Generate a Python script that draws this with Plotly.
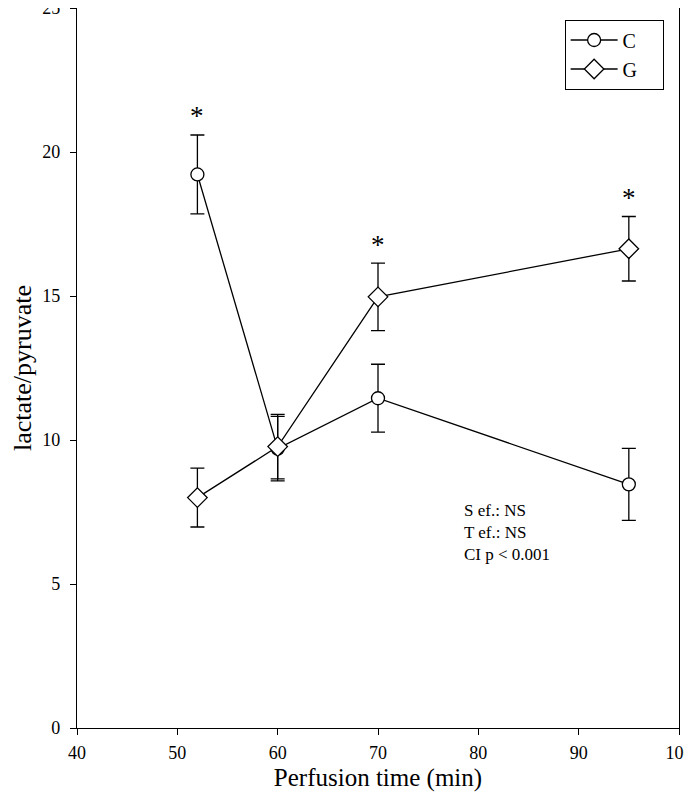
import plotly.graph_objects as go

time_c = [52, 60, 70, 95]
ratio_c = [19.22, 9.70, 11.45, 8.46]
err_c = [1.37, 1.12, 1.18, 1.25]

time_g = [52, 60, 70, 95]
ratio_g = [8.00, 9.77, 14.97, 16.64]
err_g = [1.02, 1.12, 1.17, 1.12]

star_x = [52, 70, 95]
star_y = [21.4, 16.9, 18.55]

stats_text = ["S ef.: NS", "T ef.: NS", "CI p < 0.001"]

FONT = "Liberation Serif"
PAD = "\u00a0" * 4

fig = go.Figure()
fig.add_trace(go.Scatter(
    x=time_c, y=ratio_c, name="C" + PAD, mode="lines+markers",
    line=dict(color="black", width=1.3),
    marker=dict(symbol="circle", size=13, color="white", line=dict(color="black", width=1.3)),
    error_y=dict(type="data", array=err_c, visible=True, color="black", thickness=1.3, width=7),
))
fig.add_trace(go.Scatter(
    x=time_g, y=ratio_g, name="G" + PAD, mode="lines+markers",
    line=dict(color="black", width=1.3),
    marker=dict(symbol="diamond", size=15, color="white", line=dict(color="black", width=1.3)),
    error_y=dict(type="data", array=err_g, visible=True, color="black", thickness=1.3, width=7),
))

for sx, sy in zip(star_x, star_y):
    fig.add_annotation(x=sx, y=sy, text="*", showarrow=False,
                       font=dict(family=FONT, size=27, color="#000000"),
                       xanchor="center", yanchor="middle", yshift=-4)

fig.add_annotation(x=0.64, y=0.318, xref="paper", yref="paper",
                   text="<br>".join(stats_text), showarrow=False, align="left",
                   xanchor="left", yanchor="top",
                   font=dict(family=FONT, size=17, color="black"))

axis_common = dict(showgrid=False, zeroline=False, showline=True, linecolor="black",
                   linewidth=1.3, mirror=True, ticks="outside", ticklen=6, tickcolor="black",
                   tickwidth=1.3, automargin=False, ticklabeloverflow="allow",
                   tickfont=dict(family=FONT, size=18, color="black"))

fig.update_layout(
    width=692, height=799,
    margin=dict(l=69, r=21, t=0, b=79),
    paper_bgcolor="white", plot_bgcolor="white",
    font=dict(family=FONT, size=16, color="black"),
    showlegend=True,
    legend=dict(x=0.81, y=0.984, xanchor="left", yanchor="top",
                bordercolor="black", borderwidth=1, bgcolor="white",
                font=dict(family=FONT, size=20), tracegroupgap=0,
                itemwidth=47),
    xaxis=dict(range=[40, 100], tickvals=[40, 50, 60, 70, 80, 90, 100],
               ticklabelstandoff=2,
               title=dict(text="Perfusion time (min)", font=dict(family=FONT, size=25), standoff=6),
               **axis_common),
    yaxis=dict(range=[0, 25], tickvals=[0, 5, 10, 15, 20, 25],
               ticklabelstandoff=6,
               title=dict(text="lactate/pyruvate", font=dict(family=FONT, size=26), standoff=22),
               **axis_common),
)

fig.write_html("out.html")
